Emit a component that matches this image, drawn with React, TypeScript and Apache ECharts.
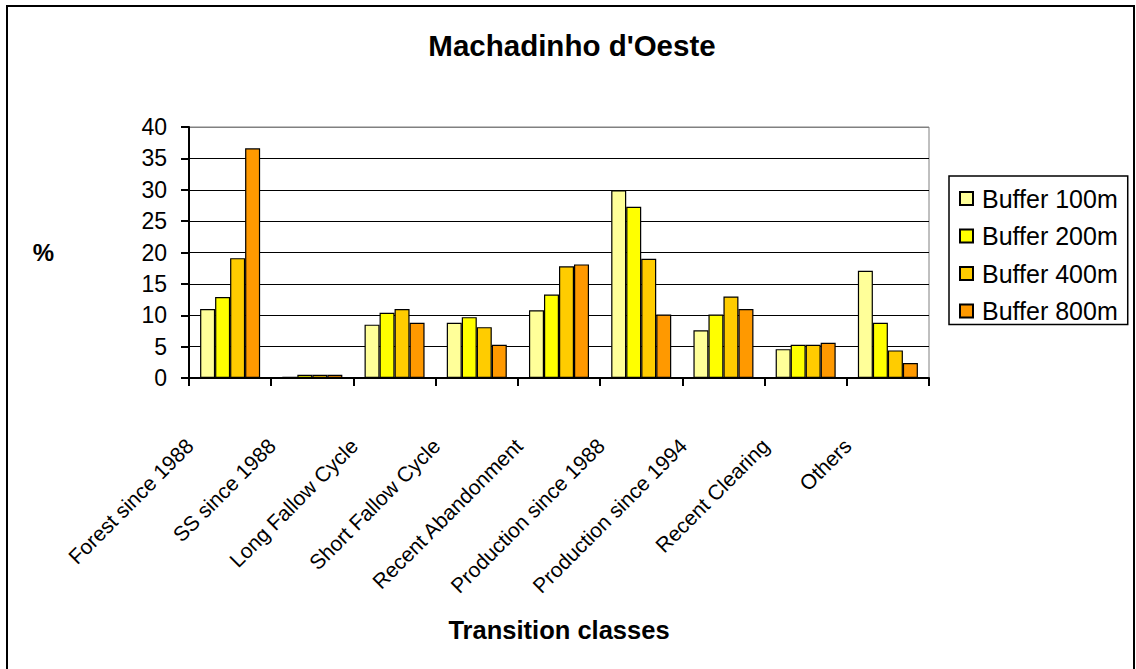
import React, { useEffect, useRef } from "react";
import * as echarts from "echarts";

const categories = [
  "Forest since 1988",
  "SS since 1988",
  "Long Fallow Cycle",
  "Short Fallow Cycle",
  "Recent Abandonment",
  "Production since 1988",
  "Production since 1994",
  "Recent Clearing",
  "Others",
];
const buffer100 = [11.0, 0.2, 8.5, 8.8, 10.8, 29.9, 7.6, 4.6, 17.1];
const buffer200 = [12.9, 0.5, 10.4, 9.7, 13.3, 27.3, 10.1, 5.3, 8.8];
const buffer400 = [19.1, 0.5, 11.0, 8.1, 17.8, 19.0, 13.0, 5.3, 4.4];
const buffer800 = [36.6, 0.5, 8.8, 5.3, 18.1, 10.1, 11.0, 5.6, 2.4];
const seriesNames = ["Buffer 100m", "Buffer 200m", "Buffer 400m", "Buffer 800m"];
const seriesColors = ["#FFFF99", "#FFFF00", "#FFCC00", "#FF9900"];
const yTicks = [0, 5, 10, 15, 20, 25, 30, 35, 40];

const FONT = "'Liberation Sans', Arial, sans-serif";

export default function App() {
  const ref = useRef<HTMLDivElement>(null);
  useEffect(() => {
    if (!ref.current) return;
    const chart = echarts.init(ref.current, null, { renderer: "svg" });
    const data = [buffer100, buffer200, buffer400, buffer800];
    chart.setOption({
      animation: false,
      backgroundColor: "#ffffff",
      textStyle: { fontFamily: FONT, color: "#000" },
      title: {
        text: "Machadinho d'Oeste",
        left: 567,
        textAlign: "center",
        top: 25,
        textStyle: { fontFamily: FONT, fontSize: 29.5, fontWeight: "bold", color: "#000" },
      },
      graphic: [
        {
          type: "rect",
          shape: { x: 7, y: 6, width: 1127, height: 672 },
          style: { fill: "none", stroke: "#000", lineWidth: 2 },
          silent: true,
        },
      ],
      legend: {
        orient: "vertical",
        left: 949,
        top: 176,
        padding: [10, 10, 1, 10],
        itemGap: 12.5,
        itemWidth: 13,
        itemHeight: 13,
        icon: "rect",
        borderColor: "#000",
        borderWidth: 1.5,
        textStyle: { fontFamily: FONT, fontSize: 25, color: "#000", padding: [0, 0, 0, 4] },
        data: seriesNames,
      },
      grid: {
        left: 189,
        right: 207,
        top: 127,
        bottom: 291,
        show: true,
        borderColor: "#808080",
        borderWidth: 1,
        backgroundColor: "transparent",
      },
      xAxis: {
        type: "category",
        data: categories,
        name: "Transition classes",
        nameLocation: "middle",
        nameGap: 239,
        nameTextStyle: { fontFamily: FONT, fontSize: 25.5, fontWeight: "bold", color: "#000" },
        axisLine: { lineStyle: { color: "#000", width: 2 } },
        axisTick: { show: true, length: 8, lineStyle: { color: "#000", width: 2 } },
        axisLabel: {
          interval: 0,
          rotate: 45,
          margin: 24,
          padding: [0, 57, 0, 0],
          fontFamily: FONT,
          fontSize: 21,
          color: "#000",
        },
      },
      yAxis: {
        type: "value",
        min: yTicks[0],
        max: yTicks[yTicks.length - 1],
        interval: 5,
        name: "%",
        nameLocation: "middle",
        nameRotate: 0,
        nameGap: 135,
        nameTextStyle: {
          fontFamily: FONT,
          fontSize: 24,
          fontWeight: "bold",
          color: "#000",
          padding: [9, 0, 0, 0],
        },
        axisLine: { show: true, lineStyle: { color: "#000", width: 2 } },
        axisTick: { show: true, length: 8, lineStyle: { color: "#000", width: 2 } },
        axisLabel: { margin: 22, fontFamily: FONT, fontSize: 23, color: "#000" },
        splitLine: {
          show: true,
          lineStyle: {
            color: ["#000", "#000", "#000", "#000", "#000", "#000", "#000", "#000", "#808080"],
            width: 1,
          },
        },
      },
      series: data.map((d, i) => ({
        name: seriesNames[i],
        type: "bar",
        data: d,
        barGap: "0%",
        barCategoryGap: "27%",
        itemStyle: { color: seriesColors[i], borderColor: "#000", borderWidth: 1.2 },
      })),
    });
    return () => chart.dispose();
  }, []);
  return (
    <div
      ref={ref}
      style={{ position: "absolute", left: 0, top: 0, width: 1136, height: 669 }}
    />
  );
}
